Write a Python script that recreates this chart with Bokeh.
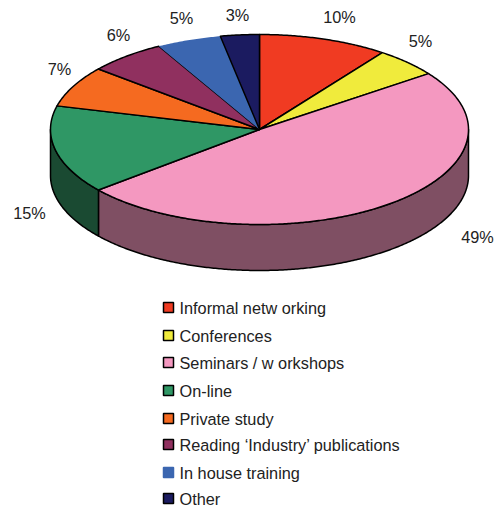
import numpy as np
from bokeh.embed import file_html
from bokeh.models import Range1d
from bokeh.plotting import figure
from bokeh.resources import INLINE
from bokeh.core.properties import value

categories = ["Informal netw orking", "Conferences", "Seminars / w orkshops", "On-line",
              "Private study", "Reading \u2018Industry\u2019 publications", "In house training", "Other"]
shares = [10, 5, 49, 15, 7, 6, 5, 3]
colors = ["#F03B22", "#F0EB3C", "#F498C0", "#2F9765", "#F56A20", "#90305F", "#3B66B0", "#1B1B60"]
outlines = ["black", "black", "black", "black", "black", "black", None, "black"]
wall_colors = {2: "#7F4F63", 3: "#1A4A32"}

# Layout of the tilted disc and its surroundings, in page pixels
CX, CY, RX, RY, DEPTH = 259, 129, 209, 95, 46
label_xy = [(339, 16), (420, 40), (477, 236), (29, 212), (59, 68), (118, 34), (181, 17), (237, 14)]
legend_x, legend_text_x = 168, 179
legend_y = [307, 335, 362, 390, 418, 444, 472, 498]

W, H = 499, 508
p = figure(width=W, height=H, x_range=Range1d(0, W), y_range=Range1d(H, 0),
           x_axis_type=None, y_axis_type=None, toolbar_location=None,
           output_backend="svg", min_border=0, outline_line_color=None,
           background_fill_color="white", border_fill_color="white")
p.grid.visible = False


def rim(a0, a1, drop=0.0):
    """Points on the disc edge between two clockwise angles measured from 12 o'clock."""
    t = np.radians(np.linspace(a0, a1, max(int(abs(a1 - a0) * 2), 2)))
    return CX + RX * np.sin(t), CY - RY * np.cos(t) + drop


edges = np.concatenate([[0], np.cumsum(shares)]) * 360 / sum(shares)

# Side wall: only the part of the rim that faces the viewer (90 to 270 degrees)
for i, color in wall_colors.items():
    a0, a1 = max(edges[i], 90), min(edges[i + 1], 270)
    x0, y0 = rim(a0, a1)
    x1, y1 = rim(a0, a1, DEPTH)
    p.patch(np.r_[x0, x1[::-1]], np.r_[y0, y1[::-1]], fill_color=color,
            line_color="black", line_width=1.5, line_join="round")

# Top face, one wedge per category
for i, color in enumerate(colors):
    x, y = rim(edges[i], edges[i + 1])
    p.patch(np.r_[CX, x], np.r_[CY, y], fill_color=color,
            line_color=outlines[i], line_width=1.5, line_join="round")

p.text([q[0] for q in label_xy], [q[1] for q in label_xy], text=[f"{s}%" for s in shares],
       text_font=value("Liberation Sans"), text_font_size="16.3px", text_color="#222222",
       text_align="center", text_baseline="middle")

# Legend rows
p.scatter([legend_x] * len(categories), legend_y, marker="square", size=10,
          fill_color=colors, line_color=[c or colors[i] for i, c in enumerate(outlines)], line_width=1.5)
p.text([legend_text_x] * len(categories), legend_y, text=categories,
       text_font=value("Liberation Sans"), text_font_size="16.3px", text_color="#222222",
       text_align="left", text_baseline="middle")

open("out.html", "w").write(file_html(p, INLINE))
